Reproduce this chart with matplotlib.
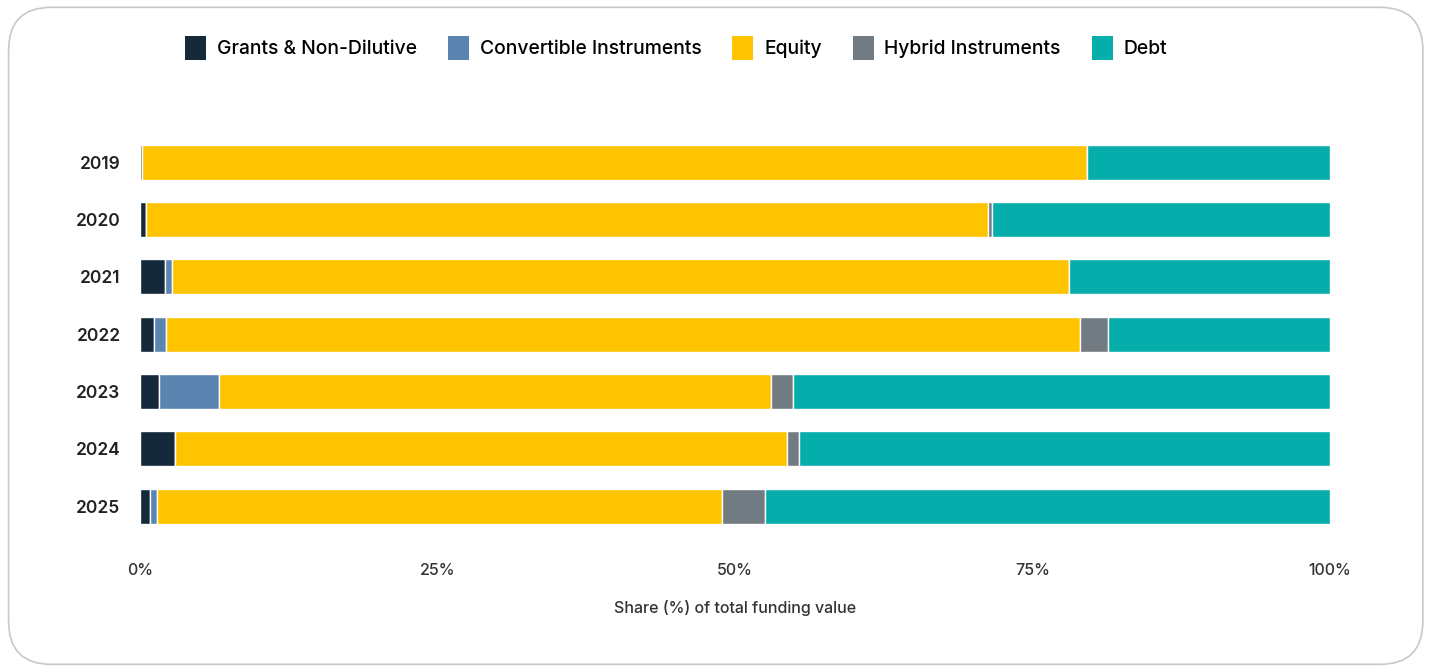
import matplotlib.pyplot as plt
from matplotlib.patches import FancyBboxPatch, Patch
from matplotlib.ticker import PercentFormatter
import numpy as np

plt.rcParams['font.family'] = ['Inter', 'DejaVu Sans']

years = ['2019', '2020', '2021', '2022', '2023', '2024', '2025']
categories = ['Grants & Non-Dilutive', 'Convertible Instruments', 'Equity',
              'Hybrid Instruments', 'Debt']

# share of total funding value per year (%)
grants = [0.2, 0.5, 2.1, 1.2, 1.6, 2.9, 0.8]
convertible = [0.0, 0.0, 0.6, 1.0, 5.0, 0.0, 0.6]
equity = [79.4, 70.8, 75.4, 76.8, 46.4, 51.5, 47.5]
hybrid = [0.0, 0.3, 0.0, 2.3, 1.9, 1.0, 3.6]
debt = [20.4, 28.4, 21.9, 18.7, 45.1, 44.6, 47.5]

colors = ['#14293a', '#5b84b1', '#ffc400', '#737b82', '#06aeab']

fig = plt.figure(figsize=(14.3, 6.67), dpi=100)

# rounded card outline
card = FancyBboxPatch((0.006, 0.004), 0.989, 0.985,
                      boxstyle='round,pad=0,rounding_size=0.03',
                      transform=fig.transFigure, facecolor='none',
                      edgecolor='#c8c8c8', linewidth=1.2,
                      mutation_aspect=1430 / 667, zorder=-1)
fig.patches.append(card)

ax = fig.add_axes([0.0979, 0.1983, 0.8322, 0.6017])
ax.set_facecolor('none')

y = np.arange(len(years))
left = np.zeros(len(years))
for vals, name, c in zip([grants, convertible, equity, hybrid, debt], categories, colors):
    ax.barh(y, vals, left=left, height=0.61, color=c, edgecolor='white',
            linewidth=1, label=name)
    left += np.array(vals)

ax.set_ylim(len(years) - 0.5, -0.5)
ax.set_xlim(0, 100)
ax.set_yticks(y)
ax.set_yticklabels(years, fontsize=12.5, fontweight='semibold', color='#222222')
ax.set_xticks([0, 25, 50, 75, 100])
ax.xaxis.set_major_formatter(PercentFormatter(decimals=0))
ax.tick_params(axis='x', length=0, pad=20, labelsize=11.5, labelcolor='#333333')
for lbl in ax.get_xticklabels():
    lbl.set_fontweight('medium')
ax.tick_params(axis='y', length=0, pad=14)
for s in ax.spines.values():
    s.set_visible(False)
ax.set_xlabel('Share (%) of total funding value', fontsize=11.5, color='#333333',
              fontweight='medium', labelpad=16)

handles = [Patch(facecolor=c, edgecolor='none') for c in colors]
fig.legend(handles, categories, loc='center', bbox_to_anchor=(676 / 1430, 1 - 48 / 667),
           ncol=5, frameon=False, handlelength=1.1, handleheight=1.5,
           handletextpad=0.55, columnspacing=1.6,
           prop={'weight': 'medium', 'size': 13.9})

fig.savefig('out.png', dpi=100)
